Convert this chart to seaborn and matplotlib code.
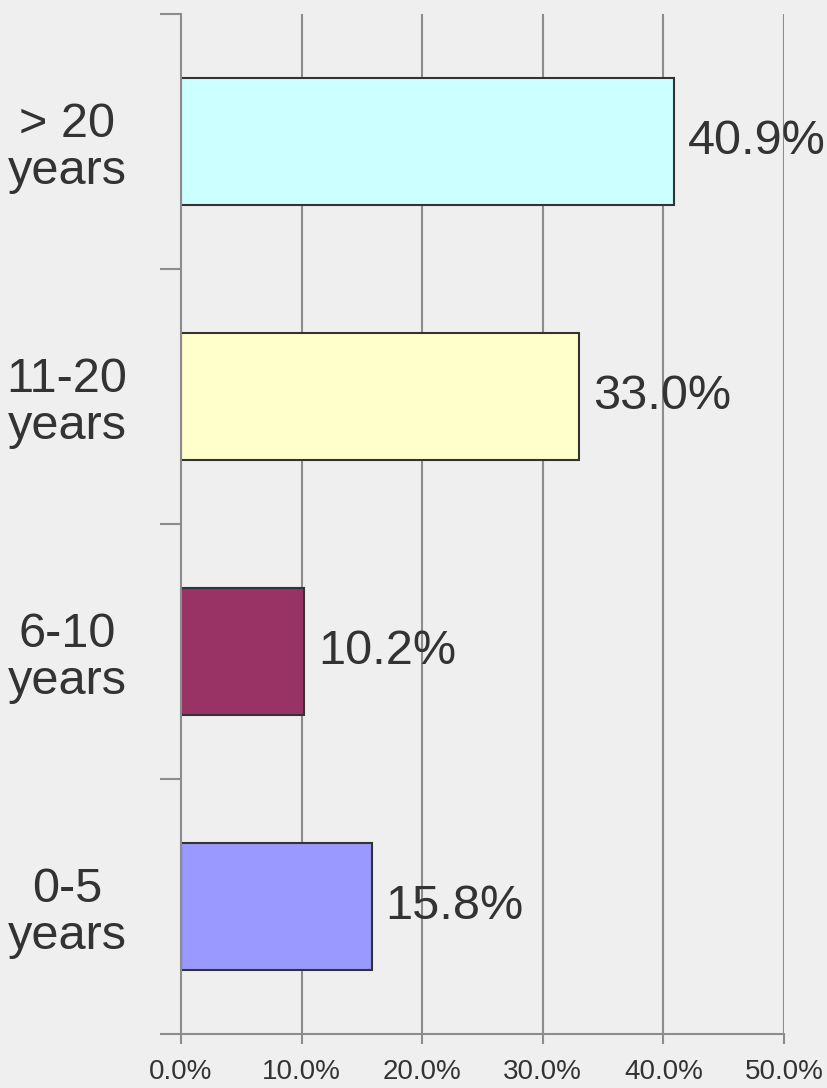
import numpy as np
import pandas as pd
import matplotlib
matplotlib.use('Agg')
import matplotlib.pyplot as plt
import seaborn as sb
from matplotlib import font_manager
from matplotlib.ticker import FixedLocator

# Chart data
groups = ['> 20\nyears', '11-20\nyears', '6-10\nyears', '0-5\nyears']
shares = [40.9, 33.0, 10.2, 15.8]
bar_colors = ['#CCFFFF', '#FFFFCC', '#993366', '#9999FF']
x_ticks = [0, 10, 20, 30, 40, 50]

df = pd.DataFrame({'group': groups, 'share': shares})

sb.set_style('white')
plt.rcParams['font.family'] = ['Liberation Sans', 'DejaVu Sans']

names = {f.name for f in font_manager.fontManager.ttflist}
tick_font = 'Liberation Sans Narrow' if 'Liberation Sans Narrow' in names else 'Liberation Sans'

fig = plt.figure(figsize=(8.27, 10.88), dpi=100, facecolor='#EFEFEF')
ax = fig.add_axes([0.2189, 0.0496, 0.948 - 0.2189, 0.9871 - 0.0496])
ax.set_facecolor('#EFEFEF')

sb.barplot(data=df, x='share', y='group', hue='group', palette=bar_colors,
           order=groups, hue_order=groups, legend=False, width=0.5, saturation=1,
           edgecolor='#333333', linewidth=1.5, ax=ax, zorder=3)

ax.set_xlim(0, 50)
ax.set_ylim(3.5, -0.5)

# vertical gridlines
for xv in x_ticks[1:]:
    ax.axvline(xv, color='#8C8C8C', lw=1.5, zorder=1)

for c in ax.containers:
    ax.bar_label(c, labels=[f'{v:.1f}%' for v in c.datavalues], padding=10,
                 fontsize=35, color='#333333')

ax.set_xticks(x_ticks)
ax.set_xticklabels([f'{v:.1f}%' for v in x_ticks], fontsize=20,
                   color='#333333', family=tick_font)
ax.tick_params(axis='x', direction='out', length=7, width=1.5, color='#8C8C8C', pad=11,
               bottom=True)

ax.yaxis.set_major_locator(FixedLocator([0, 1, 2, 3]))
ax.set_yticklabels(groups, fontsize=35, color='#333333', linespacing=1.08, ha='center')
ax.yaxis.set_minor_locator(FixedLocator([-0.5, 0.5, 1.5, 2.5, 3.5]))
ax.tick_params(axis='y', which='major', length=0, pad=82)
ax.tick_params(axis='y', which='minor', length=15, width=1.5, color='#8C8C8C', left=True)

for s in ['top', 'right']:
    ax.spines[s].set_visible(False)
for s in ['left', 'bottom']:
    ax.spines[s].set_color('#8C8C8C')
    ax.spines[s].set_linewidth(1.5)
    ax.spines[s].set_zorder(4)

ax.set_xlabel('')
ax.set_ylabel('')

fig.savefig('out.png', dpi=100, facecolor='#EFEFEF')
